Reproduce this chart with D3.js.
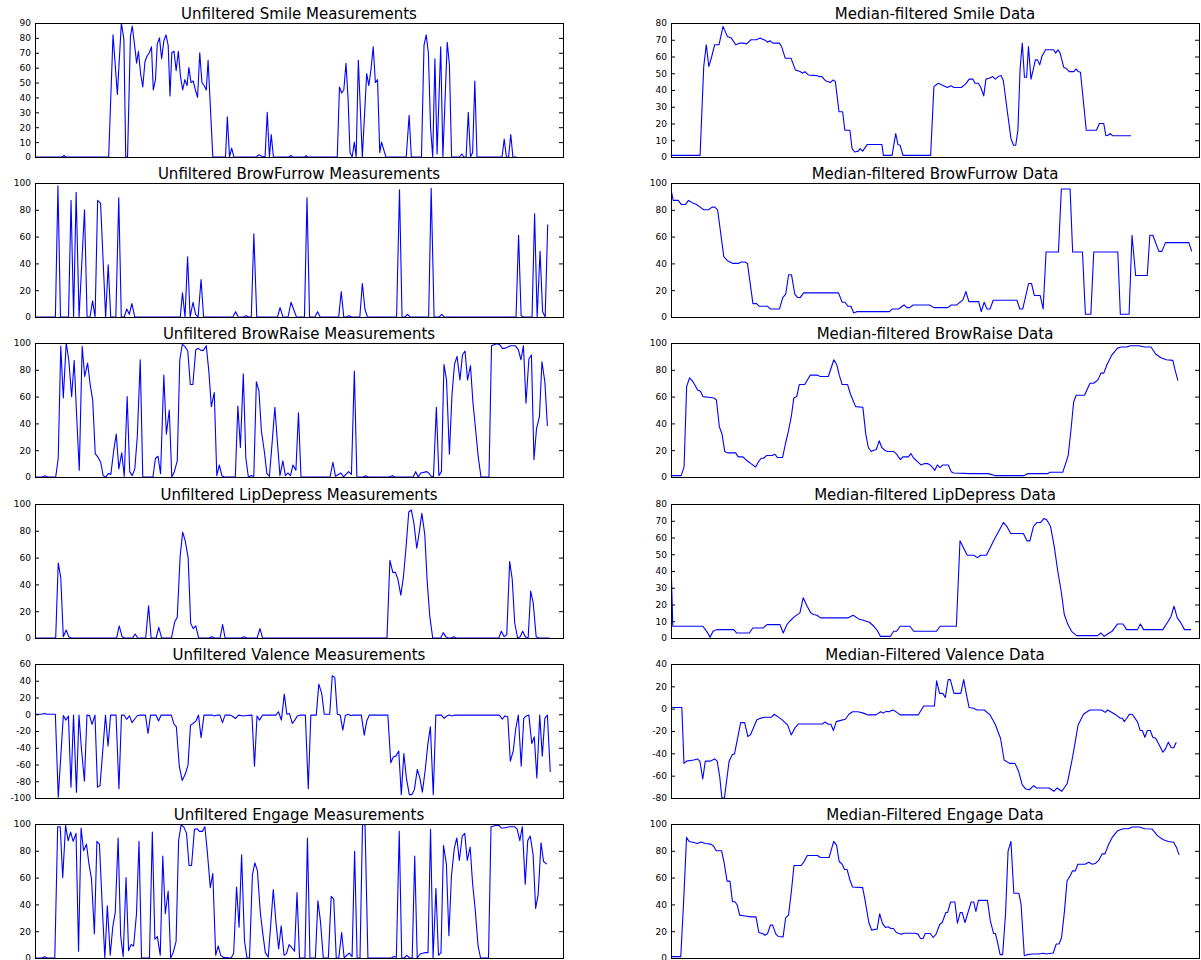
<!DOCTYPE html>
<html>
<head>
<meta charset="utf-8">
<script src="https://cdn.jsdelivr.net/npm/d3@7"></script>
<style>
  body { margin: 0; background: #fff; }
  text { font-family: "DejaVu Sans", sans-serif; }
</style>
</head>
<body>
<svg id="fig" width="1201" height="960"></svg>
<script>
// [frame, value] pairs
var smileRaw = [[95,0],[170,0],[175,1],[180,0],[298,0],[310,82],[322,42],[333,90],[340,79],[345,0],[350,0],[358,81],[363,88],[370,74],[375,63],[380,71],[386,56],[392,47],[398,64],[404,68],[410,70],[416,74],[421,45],[427,52],[432,76],[438,80],[444,66],[450,78],[456,82],[462,75],[467,41],[472,70],[478,71],[484,58],[490,71],[496,54],[502,45],[508,52],[514,48],[519,60],[525,50],[531,51],[537,45],[543,40],[549,70],[555,50],[561,48],[567,45],[572,65],[585,0],[620,0],[625,27],[631,0],[637,6],[643,0],[705,0],[711,1.5],[720,0.5],[729,0],[735,30],[741,0],[746,15],[752,0],[795,0],[800,1],[805,0],[838,0],[842,1],[846,0],[928,0],[934,47],[940,43],[946,45],[952,63],[958,38],[963,3],[969,0],[975,10],[980,0],[986,65],[997,0],[1009,56],[1015,48],[1021,59],[1027,74],[1033,50],[1039,52],[1045,3],[1050,10],[1056,5],[1062,0],[1118,0],[1126,28],[1132,0],[1160,0],[1167,75],[1173,82],[1179,70],[1185,20],[1191,0],[1197,66],[1203,2],[1213,74],[1219,0],[1231,77],[1237,62],[1243,0],[1265,0],[1271,2],[1277,0],[1283,0],[1289,30],[1295,0],[1301,3],[1307,51],[1313,0],[1382,0],[1388,12],[1394,0],[1400,0],[1406,15],[1412,0],[1422,0]];

var smileMed = [[100,1],[180,1],[190,54],[197,67],[204,54],[212,60],[220,67],[232,67],[243,78],[255,72],[266,71],[278,67],[290,68],[300,68],[308,67.5],[320,70],[335,70],[345,71],[360,69.5],[366,68.5],[372,69.5],[380,68],[398,68],[404,66],[414,59],[430,59],[442,52],[455,51],[462,50],[468,51],[478,49],[500,48.6],[508,48],[515,48],[525,45.5],[538,44.5],[546,46],[552,45],[562,27],[572,27],[578,16],[592,16],[598,5],[605,3],[615,3.5],[620,5],[627,3.5],[640,7.5],[680,7.5],[684,1],[708,1],[718,14],[724,7.5],[730,7],[738,1],[814,1],[823,42],[835,44],[845,43],[860,41.5],[870,42.5],[878,41.5],[898,41.5],[910,43.5],[920,46.5],[930,46.5],[936,44],[945,44],[952,41.5],[960,36.5],[966,46.5],[975,47],[985,48],[992,46.5],[1000,48],[1008,48.6],[1014,45.5],[1025,27],[1035,11],[1042,7],[1048,7],[1054,16],[1060,52.6],[1066,68],[1072,47.6],[1078,47.6],[1083,66],[1090,46.5],[1096,52],[1102,58],[1108,58],[1114,55],[1120,60],[1130,64],[1152,64],[1158,62],[1164,64],[1170,62],[1180,53.6],[1188,52.6],[1195,51],[1208,51],[1214,52.6],[1220,51],[1226,50.6],[1242,16],[1270,16],[1278,20],[1290,20],[1296,12.7],[1302,13],[1308,14],[1314,12.7],[1365,12.7]];

var furrowRaw = [[100,0],[156,0],[163,98],[170,0],[192,0],[199,87],[206,0],[213,93],[221,0],[236,80],[243,0],[251,0],[258,12],[265,0],[272,87],[280,85],[294,0],[301,39],[308,0],[322,0],[330,89],[337,0],[345,0],[352,6],[359,2],[366,10],[374,0],[499,0],[505,18],[512,0],[519,45],[526,0],[534,11],[541,2],[548,0],[556,28],[563,0],[643,0],[651,4],[658,0],[673,0],[680,1],[687,0],[694,0],[701,62],[709,0],[766,0],[773,7],[781,0],[795,0],[803,11],[810,6],[818,0],[840,0],[847,89],[854,0],[869,0],[876,4],[883,0],[934,0],[941,19],[948,0],[955,0],[962,1],[969,0],[992,0],[999,25],[1006,6],[1013,0],[1093,0],[1101,95],[1108,0],[1116,0],[1123,2],[1130,0],[1181,0],[1188,96],[1196,0],[1210,0],[1217,2],[1224,0],[1421,0],[1428,61],[1435,1],[1442,0],[1465,0],[1472,77],[1479,0],[1487,49],[1494,4],[1501,0],[1508,69]];

var furrowMed = [[100,95],[106,87],[120,87],[128,84],[140,84],[148,87],[160,85],[170,84],[180,82],[190,80],[203,80],[213,82],[220,82],[228,80],[245,45],[255,42],[270,40],[285,40],[293,41],[303,41],[310,40],[325,10],[335,10],[343,8],[365,8],[373,6],[398,6],[407,14.5],[415,17],[423,31.5],[431,31.5],[440,17],[448,14.5],[455,14.5],[464,18],[560,18],[570,11],[578,11],[586,8],[594,8],[602,3],[610,4],[700,4],[708,6],[725,6],[740,9],[748,7],[755,7],[765,9],[810,9],[822,7],[860,7],[870,9],[885,9],[902,13],[910,19],[918,11.5],[945,11.5],[952,4],[960,11],[968,6],[976,6],[985,12.5],[1050,12.5],[1058,6],[1066,6],[1082,25],[1090,25],[1098,16],[1114,16],[1122,6],[1130,48.5],[1164,48.5],[1172,95.5],[1196,95.5],[1203,48.5],[1230,48.5],[1238,2],[1253,2],[1261,48.5],[1327,48.5],[1334,2],[1358,2],[1366,61],[1376,31],[1408,31],[1415,61],[1423,61],[1440,49],[1448,49],[1458,55.5],[1522,55.5],[1530,49]];

var raiseRaw = [[95,0],[115,0],[122,1],[130,0],[152,0],[159,14],[166,97.5],[173,59],[181,100],[188,87.5],[196,60],[203,87],[210,44],[217,5],[225,97.5],[232,75],[240,85],[247,69],[254,57.5],[261,17.5],[268,15],[276,11],[283,1],[290,0],[297,2.5],[304,2],[312,20],[319,32],[326,6],[334,18],[341,0.5],[349,60],[356,4],[363,1],[370,6],[377,30.5],[385,87.5],[392,0],[420,0],[427,14],[434,15.5],[441,2.5],[450,76],[457,32],[465,50],[472,0],[479,4],[487,12],[494,87.5],[501,99],[508,97.5],[516,94],[523,69],[530,69],[538,95],[545,96],[552,94.5],[559,94.5],[567,98],[574,79],[581,52.5],[589,63],[596,1],[603,9],[610,1],[617,0],[647,0],[654,53],[661,22],[669,77],[676,14],[683,0],[690,1],[698,0.5],[705,71],[712,64.5],[719,34],[727,19],[734,2.5],[741,0.5],[749,27.5],[756,52],[763,26],[770,1],[778,12],[785,1],[792,3],[799,1],[806,9],[814,5],[821,48],[828,0],[908,0],[916,11],[923,0.5],[938,3],[945,0],[959,4],[967,2],[975,79],[982,0],[1000,0],[1006,1],[1013,0],[1070,0],[1080,1],[1087,0],[1137,0],[1144,4],[1151,0],[1158,3],[1175,4],[1180,3],[1187,0.5],[1193,0],[1201,52],[1208,1],[1215,4],[1222,84],[1229,72.5],[1237,17],[1244,61],[1251,84],[1258,90],[1266,72.5],[1273,91],[1280,94],[1287,72.5],[1295,83],[1302,55],[1309,36],[1316,16],[1324,0],[1346,0],[1353,98],[1367,99.5],[1375,99],[1383,96],[1390,96],[1405,98],[1418,98],[1427,95],[1434,87.5],[1441,98],[1448,55],[1456,88],[1463,91],[1470,13],[1477,36],[1485,45],[1492,86],[1500,71],[1507,38]];

var raiseMed = [[97,1],[125,1],[133,7.5],[140,67.5],[148,74],[155,72],[162,69],[170,65],[178,64],[185,60],[200,59.5],[215,59],[222,57.5],[230,37.5],[237,32.5],[245,19],[252,18],[275,18],[282,15],[295,15],[305,12.5],[317,10],[330,7.5],[337,11],[345,14],[352,14],[360,16],[375,16],[383,17],[390,14.5],[404,14.5],[412,25],[420,34],[428,45],[435,59],[443,60],[450,69],[465,69],[480,76],[500,76],[508,75],[530,75],[545,87.5],[553,84],[560,76],[568,69],[583,69],[590,62.5],[605,52.5],[625,52],[633,32],[640,22],[648,19],[655,20],[662,20.5],[670,27],[677,22],[685,20],[693,19],[710,19],[718,17],[728,13],[735,15],[750,15],[757,17.5],[765,14],[773,12],[785,9],[795,10],[803,10],[810,9],[817,7],[823,5],[830,9],[837,7],[845,9],[860,9],[868,4],[875,3],[920,2.5],[970,2.5],[990,1],[1068,1],[1078,2.5],[1133,2.5],[1140,3.5],[1175,3.5],[1190,16],[1198,36],[1205,56],[1212,61],[1235,61],[1250,70],[1260,70],[1272,72.5],[1280,77.5],[1288,77.5],[1297,84],[1310,91],[1325,96],[1335,97],[1352,97],[1360,98],[1385,98],[1400,97],[1418,97],[1430,92],[1445,89],[1460,87.5],[1478,87],[1483,81],[1492,72]];

var lipRaw = [[80,0],[137,0],[144,56],[151,45],[158,1],[166,6],[173,1],[180,0],[305,0],[312,9],[320,1],[327,0],[349,0],[356,3],[363,0],[385,0],[393,24],[400,0],[414,0],[421,8],[429,0],[456,0],[465,12],[472,15.5],[480,61],[487,79],[494,72.5],[502,60],[509,11],[516,7],[523,9],[531,0],[560,0],[567,1],[575,0],[590,0],[597,10],[604,0],[648,0],[656,1],[663,0],[692,0],[700,7],[707,0],[1050,0],[1058,58],[1066,49],[1073,49],[1080,44],[1088,32],[1095,45],[1102,66],[1110,94],[1117,95.5],[1124,86],[1132,67],[1139,79],[1146,93],[1154,77.5],[1161,41],[1168,16],[1176,0],[1198,0],[1205,4],[1212,1],[1219,0],[1227,0],[1234,1],[1241,0],[1358,0],[1365,5],[1373,1],[1380,2.5],[1388,57],[1395,44],[1402,11],[1410,0],[1417,1],[1424,5],[1431,1],[1439,0],[1446,35],[1453,26],[1461,1],[1468,0],[1497,0]];

var lipMed = [[92,46],[97,7],[180,7],[192,3.5],[200,0.5],[208,4],[218,5],[265,5],[273,3],[308,3],[318,6],[347,6],[357,8],[393,8],[402,3],[412,8],[420,10],[432,12.6],[448,15],[457,24],[468,19],[478,15],[485,14],[495,13.6],[505,12],[580,12],[595,13.6],[610,11.4],[625,10.4],[640,9.4],[652,7],[662,4.4],[670,1],[698,1],[707,4],[715,4],[725,7],[752,7],[762,4],[825,4],[835,7],[880,7],[890,58],[910,49.4],[928,49.4],[938,48],[947,49.4],[963,49.4],[985,59],[1010,69],[1020,66.4],[1030,62.4],[1065,62.4],[1075,58],[1083,58],[1093,66.6],[1103,69],[1113,69],[1122,71.4],[1130,70.4],[1140,66.6],[1150,55],[1160,40],[1170,27],[1178,14],[1188,8],[1198,4],[1212,1.4],[1270,1.4],[1279,3],[1288,1],[1310,4],[1325,8.4],[1340,8.4],[1350,5],[1380,5],[1388,8.4],[1397,5],[1450,5],[1465,10],[1473,13],[1481,19],[1490,12],[1500,9],[1510,5],[1528,5]];

var valenceRaw = [[82,0],[100,0],[108,1],[115,0],[138,0],[146,-99],[153,-50],[160,-1.5],[167,-7],[174,-2],[181,-87],[188,-1],[196,-93],[203,-1],[210,-42],[218,-80],[225,-1],[232,-1.5],[239,-12],[247,-1],[254,-87],[261,-85],[268,-46],[276,-1],[283,-38],[290,-1],[305,-1],[313,-89],[320,-1],[327,-1],[334,-6],[342,-2],[349,-10],[356,-6],[364,-1.5],[371,-1],[386,-1],[393,-23],[400,-1],[415,-1],[422,-8],[429,-1],[457,-1],[464,-11],[471,-15],[479,-62],[487,-79],[495,-72],[503,-61],[510,-13],[517,-11],[525,-8],[532,-1],[539,-28],[547,-1],[569,-1],[576,-2],[584,-1],[591,-1],[598,-10],[605,-1],[620,-1],[627,-3],[634,-5],[642,-1],[656,-2],[664,-1.5],[679,-1],[686,-62],[693,-2],[700,-7],[708,-1],[745,-1],[752,3],[760,-7],[768,24],[775,0],[782,1],[790,-11],[797,-7],[804,-2],[812,-1],[826,-1],[834,-89],[841,-1],[856,-1],[863,36],[871,25],[878,0],[893,0],[900,46],[907,44],[914,0],[922,-1],[929,-19],[936,-1.5],[944,0],[951,-1.5],[958,-1],[980,-1],[988,-25],[995,-8],[1002,-1],[1053,-1],[1061,-58],[1068,-51],[1075,-50],[1083,-44],[1090,-96],[1097,-47],[1104,-76],[1112,-96],[1119,-96],[1126,-90],[1134,-66],[1141,-76],[1148,-93],[1156,-66],[1163,-36],[1170,-15],[1178,-96],[1185,-1],[1200,-1],[1208,-5],[1215,-2],[1222,-1],[1230,-2],[1237,-1],[1360,-1],[1368,-6],[1375,-2],[1383,-3],[1390,-56],[1398,-44],[1405,-17],[1412,-1],[1420,-62],[1427,-5],[1434,-2],[1441,-1],[1449,-35],[1456,-27],[1463,-76],[1471,-1],[1478,-50],[1485,-5],[1492,-1],[1500,-69]];

var valenceMed = [[92,1],[122,1],[128,-49],[135,-47],[155,-46],[165,-45],[172,-47],[180,-63],[187,-47],[200,-47],[213,-45],[220,-47],[227,-61],[233,-80],[240,-80],[253,-47],[262,-41],[268,-40.5],[285,-12.5],[296,-12.5],[305,-25],[312,-23.5],[330,-10],[340,-8.5],[352,-7.7],[370,-7.7],[378,-5],[385,-6.5],[400,-10],[415,-14.5],[425,-23.5],[435,-17.5],[445,-13.7],[512,-13.7],[518,-12],[528,-14],[535,-14],[542,-19.5],[550,-11.6],[560,-10.7],[575,-9.5],[585,-5],[595,-2.7],[610,-2.7],[625,-4],[638,-5.6],[660,-5.6],[673,-2.7],[680,-4],[688,-2.4],[697,-2.7],[705,-1.2],[712,-2],[727,-5.6],[777,-5.6],[792,2.4],[822,2.4],[828,25],[836,13.7],[845,13.7],[852,10],[860,26],[866,26],[876,13.7],[895,13.7],[903,26],[910,13.7],[918,1],[930,0.3],[940,-1.2],[960,-1.2],[976,-5.6],[990,-13.7],[1005,-26.5],[1015,-46],[1030,-49],[1045,-49],[1055,-56],[1065,-68],[1075,-72],[1085,-72.6],[1097,-69],[1105,-71],[1140,-71],[1153,-74],[1162,-71],[1175,-74],[1190,-67],[1205,-43],[1220,-14.6],[1235,-5],[1245,-2.7],[1253,-1.2],[1285,-1.2],[1295,-3.3],[1302,-1.2],[1315,-3.6],[1325,-5.6],[1337,-8.6],[1343,-8.6],[1348,-11.6],[1355,-8.6],[1362,-5],[1370,-5],[1385,-12],[1392,-19.6],[1398,-19.6],[1405,-25.6],[1412,-19.6],[1420,-19.6],[1427,-25.6],[1435,-26.5],[1443,-31.5],[1455,-39],[1462,-36],[1470,-30],[1478,-35],[1485,-35],[1492,-30]];

var engageRaw = [[78,0],[98,0],[105,1],[112,0],[133,0],[141,98],[148,98],[155,60],[163,99],[170,87.5],[177,94],[184,87],[192,93],[199,5],[206,97],[213,80],[221,85],[228,70],[235,59],[243,18],[250,87],[257,85],[265,37.6],[272,0],[279,39],[287,2],[294,23],[301,34],[309,89.6],[316,16.6],[323,1],[331,60],[338,5.5],[345,10],[352,9],[360,33],[367,87],[374,0],[396,0],[404,94],[411,14],[418,16],[426,2],[433,76],[440,33],[448,50],[455,0],[462,4],[470,12.4],[477,87.6],[484,99.5],[492,97.5],[499,93],[506,69],[513,69],[521,96],[528,96.5],[535,94.5],[543,94.5],[550,98],[557,78.5],[565,52.5],[572,63],[580,2],[587,9],[594,2],[601,0.5],[623,0],[630,3.5],[638,53],[645,23],[652,77],[660,13],[667,0],[674,0],[682,62],[689,71],[696,65],[704,34],[711,18],[718,4],[726,0.5],[733,25],[740,51],[748,25],[755,6.7],[762,24],[770,2],[777,3.5],[784,10],[791,8],[799,5],[806,48.8],[813,0],[828,0],[835,89.6],[842,0],[857,0],[864,42.6],[871,27.7],[879,0],[893,0],[901,46],[908,44],[915,0],[922,0],[930,19],[937,0],[944,2],[951,3.7],[959,1],[966,79.7],[973,0],[981,0],[988,100],[995,99],[1003,0],[1068,0],[1075,1.2],[1082,0.5],[1090,94.5],[1097,0],[1104,0],[1111,2],[1119,0],[1126,0],[1133,76],[1140,0],[1148,3],[1155,3.5],[1162,4],[1170,4],[1177,96],[1184,0],[1192,52],[1199,2],[1206,4],[1213,84],[1221,70],[1228,16.6],[1235,61],[1243,82],[1250,89.6],[1257,72.8],[1265,91],[1272,93],[1279,72.8],[1287,82.7],[1294,55],[1301,36.4],[1309,9],[1316,0],[1338,0],[1345,98],[1360,99],[1367,99],[1374,97],[1381,97],[1396,98],[1410,98],[1418,96],[1425,87.6],[1432,98],[1440,55],[1447,87.6],[1454,91],[1462,77],[1469,37],[1476,47.5],[1484,86],[1491,72],[1500,70]];

var engageMed = [[95,1],[122,1],[130,42.6],[138,90],[145,87],[155,86.4],[168,85.4],[178,86.6],[190,85.4],[205,85],[213,83.4],[220,80],[235,80],[242,71],[250,57.4],[258,57.4],[265,42],[272,42],[278,39.6],[285,32],[300,31.4],[315,30.7],[330,30.7],[338,19],[348,18.3],[355,17],[362,18.3],[370,24.5],[376,24.5],[385,17.8],[392,16],[405,15.8],[412,30],[420,32],[428,50],[435,69],[455,69],[462,71.5],[472,76.5],[500,76.5],[508,75],[532,75],[545,87],[553,84],[560,72],[568,70],[575,66],[582,66],[590,58],[597,53],[625,52.5],[632,42.6],[642,26.5],[650,20.8],[660,21.5],[665,21.5],[672,33],[680,25.7],[688,22.8],[695,23.3],[703,22],[710,22],[718,19],[725,18.3],[733,17.8],[740,18.5],[770,18.5],[778,17.8],[785,14.6],[792,14.6],[798,18.3],[812,18.3],[820,15.3],[828,17.8],[838,25],[845,26.5],[855,34],[860,34],[868,41.8],[880,41.8],[887,26],[895,34],[900,34],[908,26.5],[925,41.8],[932,41.8],[938,34.7],[945,43],[970,43],[978,27.7],[987,18.3],[992,18.3],[998,11.6],[1005,2.5],[1012,2.5],[1020,32.7],[1027,79.7],[1035,87],[1043,48.3],[1057,48.3],[1063,40],[1072,1.7],[1080,2.5],[1095,3],[1110,3],[1125,3.5],[1132,3],[1152,3.7],[1160,10.4],[1168,10.4],[1175,15.3],[1183,35],[1190,57.4],[1200,62],[1205,65],[1213,65],[1220,70],[1240,70],[1250,71.5],[1260,70],[1268,70.5],[1278,73],[1287,77.7],[1295,77.7],[1305,84.7],[1315,90],[1330,95],[1345,96.5],[1360,96.5],[1370,97.8],[1390,97.8],[1405,96.5],[1425,96.3],[1440,91.3],[1455,88.4],[1470,87],[1485,86.4],[1493,82.2],[1500,77]];

// y tick values
var ticks0to90 = [0, 10, 20, 30, 40, 50, 60, 70, 80, 90];
var ticks0to80 = [0, 10, 20, 30, 40, 50, 60, 70, 80];
var ticks0to100 = [0, 20, 40, 60, 80, 100];
var ticksValenceRaw = [-100, -80, -60, -40, -20, 0, 20, 40, 60];
var ticksValenceMed = [-80, -60, -40, -20, 0, 20, 40];

var titles = [
  "Unfiltered Smile Measurements", "Median-filtered Smile Data",
  "Unfiltered BrowFurrow Measurements", "Median-filtered BrowFurrow Data",
  "Unfiltered BrowRaise Measurements", "Median-filtered BrowRaise Data",
  "Unfiltered LipDepress Measurements", "Median-filtered LipDepress Data",
  "Unfiltered Valence Measurements", "Median-Filtered Valence Data",
  "Unfiltered Engage Measurements", "Median-Filtered Engage Data"
];

var panels = [
  { data: smileRaw,   xlim: [95, 1550], ylim: [0, 90],    ticks: ticks0to90 },
  { data: smileMed,   xlim: [100, 1552], ylim: [0, 80],   ticks: ticks0to80 },
  { data: furrowRaw,  xlim: [100, 1550], ylim: [0, 100],  ticks: ticks0to100 },
  { data: furrowMed,  xlim: [100, 1550], ylim: [0, 100],  ticks: ticks0to100 },
  { data: raiseRaw,   xlim: [95, 1550], ylim: [0, 100],   ticks: ticks0to100 },
  { data: raiseMed,   xlim: [97, 1550], ylim: [0, 100],   ticks: ticks0to100 },
  { data: lipRaw,     xlim: [80, 1535], ylim: [0, 100],   ticks: ticks0to100 },
  { data: lipMed,     xlim: [92, 1550], ylim: [0, 80],    ticks: ticks0to80 },
  { data: valenceRaw, xlim: [82, 1535], ylim: [-100, 60], ticks: ticksValenceRaw },
  { data: valenceMed, xlim: [92, 1555], ylim: [-80, 40],  ticks: ticksValenceMed },
  { data: engageRaw,  xlim: [78, 1545], ylim: [0, 100],   ticks: ticks0to100 },
  { data: engageMed,  xlim: [95, 1555], ylim: [0, 100],   ticks: ticks0to100 }
];

document.addEventListener('DOMContentLoaded', function() {
  drawGrid();
});

function drawGrid() {
  var svg = d3.select('#fig');
  var colLeft = [35, 671],
      plotW = 528,
      plotH = 134,
      firstTop = 23,
      rowStep = 160.2;

  var fmt = function(d) { return (d < 0 ? "-" : "") + Math.abs(d); };

  panels.forEach(function(p, i) {
    var col = i % 2,
        row = Math.floor(i / 2),
        left = colLeft[col],
        top = Math.round(firstTop + row * rowStep);

    var x = d3.scaleLinear().domain(p.xlim).range([0, plotW]);
    var y = d3.scaleLinear().domain(p.ylim).range([plotH, 0]);

    var g = svg.append("g")
        .attr("transform", "translate(" + left + "," + top + ")");

    g.append("clipPath")
        .attr("id", "clip" + i)
      .append("rect")
        .attr("width", plotW)
        .attr("height", plotH);

    g.append("path")
        .datum(p.data)
        .attr("clip-path", "url(#clip" + i + ")")
        .attr("fill", "none")
        .attr("stroke", "#0000ff")
        .attr("stroke-width", 1.1)
        .attr("stroke-linejoin", "round")
        .attr("d", d3.line()
            .x(function(d) { return x(d[0]); })
            .y(function(d) { return y(d[1]); }));

    // left ticks point inward, labels outside
    var leftAxis = g.append("g")
        .call(d3.axisLeft(y).tickValues(p.ticks).tickSize(-4).tickPadding(4).tickFormat(fmt));
    var rightAxis = g.append("g")
        .attr("transform", "translate(" + plotW + ",0)")
        .call(d3.axisRight(y).tickValues(p.ticks).tickSize(-4).tickFormat(""));

    [leftAxis, rightAxis].forEach(function(a) {
      a.select(".domain").remove();
      a.selectAll("line").attr("stroke", "#000");
    });
    leftAxis.selectAll("text")
        .attr("fill", "#000")
        .style("font-size", "9px")
        .style("font-family", "'DejaVu Sans', sans-serif");

    g.append("rect")
        .attr("x", 0.5)
        .attr("y", 0.5)
        .attr("width", plotW)
        .attr("height", plotH)
        .attr("fill", "none")
        .attr("stroke", "#000")
        .attr("stroke-width", 1);

    g.append("text")
        .attr("x", plotW / 2)
        .attr("y", -4)
        .attr("text-anchor", "middle")
        .style("font-size", "15px")
        .attr("fill", "#000")
        .text(titles[i]);
  });
}
</script>
</body>
</html>
